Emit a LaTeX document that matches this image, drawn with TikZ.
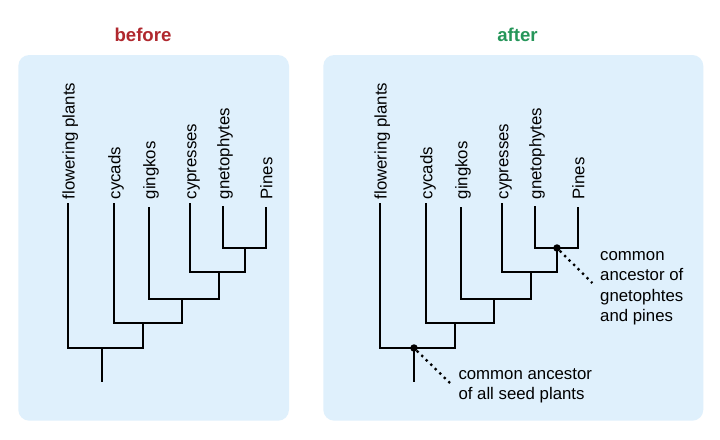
\documentclass[tikz,border=0pt]{standalone}
\usepackage{fontspec}
\setmainfont{Liberation Sans}
\definecolor{panelblue}{RGB}{223,240,252}
\definecolor{beforered}{RGB}{176,40,46}
\definecolor{aftergreen}{RGB}{38,150,90}
\tikzset{
  panel/.style={fill=panelblue,draw=none,rounded corners=11pt},
  branch/.style={line width=2.1pt,line cap=rect,line join=miter},
  leaflabel/.style={rotate=90,anchor=base west,inner sep=0pt,font=\fontsize{16.8}{20.6}\selectfont},
  titlelabel/.style={anchor=base,inner sep=0pt,font=\fontsize{18.6}{22}\selectfont\bfseries},
  note/.style={anchor=base west,align=left,inner sep=0pt,font=\fontsize{16.8}{20.6}\selectfont},
  ancdot/.style={circle,fill=black,inner sep=0pt,minimum size=7.5pt},
  pointer/.style={line width=2.3pt,dash pattern=on 2.3pt off 4pt}
}
\newcommand{\mytree}[2]{%
  % #1 prefix, #2 x offset
  \coordinate (#1fp) at (68+#2,204);
  \coordinate (#1cy) at (114+#2,204);
  \coordinate (#1gi) at (149+#2,208);
  \coordinate (#1cp) at (190+#2,204);
  \coordinate (#1gn) at (223+#2,207);
  \coordinate (#1pi) at (266+#2,208);
  \coordinate (#1ja) at (245+#2,248);
  \coordinate (#1jb) at (219+#2,272);
  \coordinate (#1jc) at (182+#2,299);
  \coordinate (#1jd) at (143+#2,323);
  \coordinate (#1je) at (102+#2,348);
  \coordinate (#1root) at (102+#2,381);
  \draw[branch] (#1gn) |- (#1ja) -| (#1pi);
  \draw[branch] (#1cp) |- (#1jb) -| (#1ja);
  \draw[branch] (#1gi) |- (#1jc) -| (#1jb);
  \draw[branch] (#1cy) |- (#1jd) -| (#1jc);
  \draw[branch] (#1fp) |- (#1je) -| (#1jd);
  \draw[branch] (#1je) -- (#1root);
  \node[leaflabel] (#1Lfp) at (74.5+#2,199.5) {flowering plants};
  \node[leaflabel] (#1Lcy) at (120.3+#2,199.5) {cycads};
  \node[leaflabel] (#1Lgi) at (155.3+#2,199.5) {gingkos};
  \node[leaflabel] (#1Lcp) at (196.3+#2,199.5) {cypresses};
  \node[leaflabel] (#1Lgn) at (229.3+#2,199.5) {gnetophytes};
  \node[leaflabel] (#1Lpi) at (272.3+#2,199.5) {Pines};
}
\begin{document}
\begin{tikzpicture}[x=1pt,y=-1pt]
  \useasboundingbox (0,0) rectangle (720,439);
  \fill[white] (0,0) rectangle (720,439);
  \path[panel] (18.3,55) rectangle (289,420.7);
  \path[panel] (323.3,55) rectangle (703.3,420.7);
  \node[titlelabel,text=beforered] (tbefore) at (143,41) {before};
  \node[titlelabel,text=aftergreen] (tafter) at (517.5,41) {after};
  \mytree{b}{0}
  \mytree{a}{312}
  \node[ancdot] (dotgp) at (aja) {};
  \node[ancdot] (dotall) at (aje) {};
  \coordinate (endgp) at (592.3,283);
  \coordinate (endall) at (450,383);
  \draw[pointer] (dotgp) -- (endgp);
  \draw[pointer] (dotall) -- (endall);
  \node[note] (notegp) at (600,321.8) {common\\ancestor of\\gnetophtes\\and pines};
  \node[note] (noteall) at (458.3,399.6) {common ancestor\\of all seed plants};
\end{tikzpicture}
\end{document}
